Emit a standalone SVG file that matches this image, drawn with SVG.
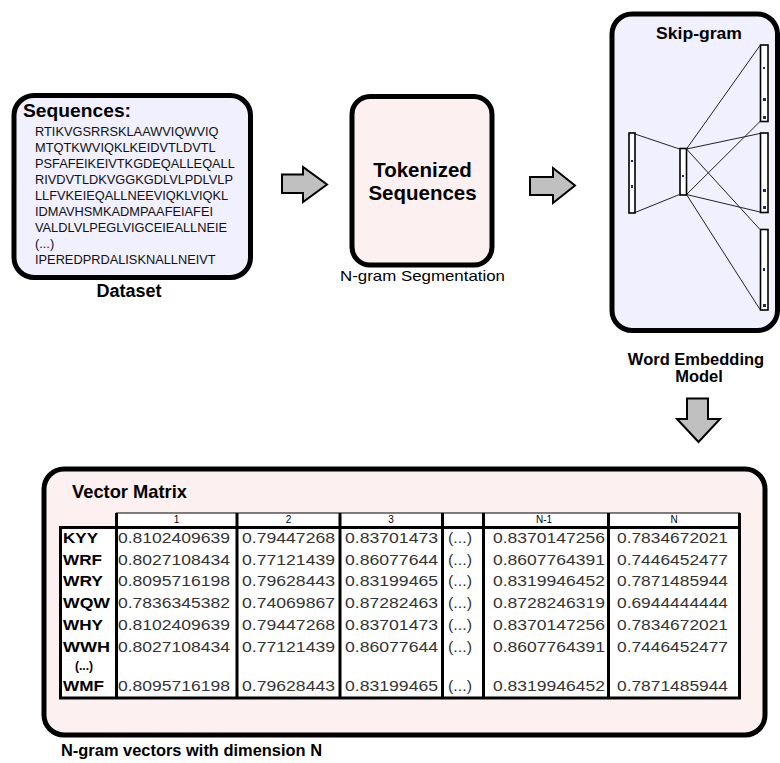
<svg xmlns="http://www.w3.org/2000/svg" width="780" height="763" viewBox="0 0 780 763">
<defs>
<style>
text{font-family:"Liberation Sans",Arial,sans-serif;fill:#000}
.b{font-weight:bold}
.seq{font-size:12.8px;fill:#111}
.box{stroke:#000;stroke-width:5}
.lav{fill:#f0f0fe}
.pink{fill:#fdf0f0}
.arrow{fill:#c0c0c0;stroke:#000;stroke-width:2;stroke-linejoin:miter}
.layer{fill:#fff;stroke:#000;stroke-width:1.6}
.nn{stroke:#222;stroke-width:1;fill:none}
.mk{fill:#1a2a6a}
.num{font-size:14.5px;fill:#333}
.lab{font-size:14.5px;font-weight:bold}
.hd{font-size:10px;text-anchor:middle}
.sep{stroke:#000;stroke-width:3}
</style>
</defs>
<rect width="780" height="763" fill="#fff"/>

<g id="dataset">
<rect class="box lav" x="14" y="95.5" width="236.5" height="182" rx="20"/>
<text class="b" x="23" y="117" font-size="18" textLength="108" lengthAdjust="spacingAndGlyphs">Sequences:</text>
<text class="seq" x="35" y="136">RTIKVGSRRSKLAAWVIQWVIQ</text>
<text class="seq" x="35" y="152">MTQTKWVIQKLKEIDVTLDVTL</text>
<text class="seq" x="35" y="168">PSFAFEIKEIVTKGDEQALLEQALL</text>
<text class="seq" x="35" y="184">RIVDVTLDKVGGKGDLVLPDLVLP</text>
<text class="seq" x="35" y="200">LLFVKEIEQALLNEEVIQKLVIQKL</text>
<text class="seq" x="35" y="216">IDMAVHSMKADMPAAFEIAFEI</text>
<text class="seq" x="35" y="232">VALDLVLPEGLVIGCEIEALLNEIE</text>
<text class="seq" x="35" y="248">(...)</text>
<text class="seq" x="35" y="264">IPEREDPRDALISKNALLNEIVT</text>
<text class="b" x="129" y="297" font-size="18" text-anchor="middle">Dataset</text>
</g>

<g id="tokenized">
<rect class="box pink" x="352" y="96.5" width="140" height="168.5" rx="18" stroke-width="4"/>
<text class="b" x="422.5" y="177" font-size="20.5" text-anchor="middle">Tokenized</text>
<text class="b" x="422.5" y="200" font-size="20.5" text-anchor="middle">Sequences</text>
<text x="422.5" y="281" font-size="15" text-anchor="middle" textLength="165" lengthAdjust="spacingAndGlyphs">N-gram Segmentation</text>
</g>

<g id="skipgram">
<rect class="box lav" x="612" y="14" width="165.5" height="316.5" rx="20"/>
<text class="b" x="699" y="38.5" font-size="16.5" text-anchor="middle" textLength="86" lengthAdjust="spacingAndGlyphs">Skip-gram</text>
<g id="network">
<line class="nn" x1="635" y1="134" x2="679.5" y2="149"/>
<line class="nn" x1="635" y1="212.5" x2="679.5" y2="194.5"/>
<line class="nn" x1="686.5" y1="149" x2="760" y2="45.5"/>
<line class="nn" x1="686.5" y1="194.5" x2="760" y2="121.5"/>
<line class="nn" x1="686.5" y1="149" x2="760" y2="133.5"/>
<line class="nn" x1="686.5" y1="194.5" x2="760" y2="212"/>
<line class="nn" x1="686.5" y1="149" x2="760" y2="229.5"/>
<line class="nn" x1="686.5" y1="194.5" x2="760" y2="309.5"/>
<rect class="layer" x="629" y="133" width="6" height="80"/>
<rect class="layer" x="680" y="148.5" width="6.5" height="46.5"/>
<rect class="layer" x="760.5" y="45" width="7.5" height="76.5"/>
<rect class="layer" x="760.5" y="133" width="7.5" height="79.5"/>
<rect class="layer" x="760.5" y="229.5" width="7.5" height="80.5"/>
<rect class="mk" x="631" y="185" width="2" height="3"/>
<rect class="mk" x="631" y="160" width="2" height="2"/>
<rect class="mk" x="682" y="175" width="2" height="2"/>
<rect class="mk" x="763" y="98" width="3" height="3"/>
<rect class="mk" x="763" y="67" width="2" height="2"/>
<rect class="mk" x="763" y="116" width="3" height="3"/>
<rect class="mk" x="763" y="189" width="3" height="3"/>
<rect class="mk" x="763" y="206" width="3" height="3"/>
<rect class="mk" x="763" y="268" width="2" height="3"/>
<rect class="mk" x="763" y="304" width="3" height="3"/>
</g>
<text class="b" x="696" y="365" font-size="16.5" text-anchor="middle">Word Embedding</text>
<text class="b" x="699" y="382" font-size="16.5" text-anchor="middle">Model</text>
</g>

<g id="connectors">
<polygon class="arrow" points="282,174.5 303,174.5 303,167 327,184.5 303,202 303,193 282,193"/>
<polygon class="arrow" points="530,177 553,177 553,168 575,185.5 553,203 553,195 530,195"/>
<polygon class="arrow" points="687,398.5 708,398.5 708,419 720,419 698.5,442 677,419 687,419"/>
</g>

<g id="vector-matrix">
<rect class="box pink" x="44" y="469" width="721" height="266" rx="20"/>
<text class="b" x="72" y="498" font-size="19" textLength="115" lengthAdjust="spacingAndGlyphs">Vector Matrix</text>
<g id="table">
<rect x="116.5" y="513" width="623" height="14" fill="#fff" stroke="#000" stroke-width="1"/>
<rect x="60.5" y="527.5" width="679" height="170.5" fill="#fff" stroke="#000" stroke-width="3"/>
<line class="sep" x1="116.5" y1="513" x2="116.5" y2="698"/>
<line class="sep" x1="237" y1="513" x2="237" y2="698"/>
<line class="sep" x1="340" y1="513" x2="340" y2="698"/>
<line class="sep" x1="442.5" y1="513" x2="442.5" y2="698"/>
<line class="sep" x1="483.5" y1="513" x2="483.5" y2="698"/>
<line class="sep" x1="608.5" y1="513" x2="608.5" y2="698"/>
<line class="sep" x1="739.5" y1="513" x2="739.5" y2="698"/>
<text class="hd" x="176.5" y="522.5">1</text>
<text class="hd" x="288.5" y="522.5">2</text>
<text class="hd" x="391" y="522.5">3</text>
<text class="hd" x="544" y="522.5">N-1</text>
<text class="hd" x="674" y="522.5">N</text>

<text class="lab" x="63" y="543" textLength="35" lengthAdjust="spacingAndGlyphs">KYY</text>
<text class="num" x="118" y="543" textLength="112" lengthAdjust="spacingAndGlyphs">0.8102409639</text>
<text class="num" x="242" y="543" textLength="93" lengthAdjust="spacingAndGlyphs">0.79447268</text>
<text class="num" x="345" y="543" textLength="93" lengthAdjust="spacingAndGlyphs">0.83701473</text>
<text class="num" x="448" y="543" textLength="24" lengthAdjust="spacingAndGlyphs">(...)</text>
<text class="num" x="493" y="543" textLength="112" lengthAdjust="spacingAndGlyphs">0.8370147256</text>
<text class="num" x="617" y="543" textLength="111" lengthAdjust="spacingAndGlyphs">0.7834672021</text>

<text class="lab" x="63" y="564.5" textLength="39" lengthAdjust="spacingAndGlyphs">WRF</text>
<text class="num" x="118" y="564.5" textLength="112" lengthAdjust="spacingAndGlyphs">0.8027108434</text>
<text class="num" x="242" y="564.5" textLength="93" lengthAdjust="spacingAndGlyphs">0.77121439</text>
<text class="num" x="345" y="564.5" textLength="93" lengthAdjust="spacingAndGlyphs">0.86077644</text>
<text class="num" x="448" y="564.5" textLength="24" lengthAdjust="spacingAndGlyphs">(...)</text>
<text class="num" x="493" y="564.5" textLength="112" lengthAdjust="spacingAndGlyphs">0.8607764391</text>
<text class="num" x="617" y="564.5" textLength="111" lengthAdjust="spacingAndGlyphs">0.7446452477</text>

<text class="lab" x="63" y="586" textLength="40" lengthAdjust="spacingAndGlyphs">WRY</text>
<text class="num" x="118" y="586" textLength="112" lengthAdjust="spacingAndGlyphs">0.8095716198</text>
<text class="num" x="242" y="586" textLength="93" lengthAdjust="spacingAndGlyphs">0.79628443</text>
<text class="num" x="345" y="586" textLength="93" lengthAdjust="spacingAndGlyphs">0.83199465</text>
<text class="num" x="448" y="586" textLength="24" lengthAdjust="spacingAndGlyphs">(...)</text>
<text class="num" x="493" y="586" textLength="112" lengthAdjust="spacingAndGlyphs">0.8319946452</text>
<text class="num" x="617" y="586" textLength="111" lengthAdjust="spacingAndGlyphs">0.7871485944</text>

<text class="lab" x="63" y="607.5" textLength="47" lengthAdjust="spacingAndGlyphs">WQW</text>
<text class="num" x="118" y="607.5" textLength="112" lengthAdjust="spacingAndGlyphs">0.7836345382</text>
<text class="num" x="242" y="607.5" textLength="93" lengthAdjust="spacingAndGlyphs">0.74069867</text>
<text class="num" x="345" y="607.5" textLength="93" lengthAdjust="spacingAndGlyphs">0.87282463</text>
<text class="num" x="448" y="607.5" textLength="24" lengthAdjust="spacingAndGlyphs">(...)</text>
<text class="num" x="493" y="607.5" textLength="112" lengthAdjust="spacingAndGlyphs">0.8728246319</text>
<text class="num" x="617" y="607.5" textLength="111" lengthAdjust="spacingAndGlyphs">0.6944444444</text>

<text class="lab" x="63" y="630" textLength="40" lengthAdjust="spacingAndGlyphs">WHY</text>
<text class="num" x="118" y="630" textLength="112" lengthAdjust="spacingAndGlyphs">0.8102409639</text>
<text class="num" x="242" y="630" textLength="93" lengthAdjust="spacingAndGlyphs">0.79447268</text>
<text class="num" x="345" y="630" textLength="93" lengthAdjust="spacingAndGlyphs">0.83701473</text>
<text class="num" x="448" y="630" textLength="24" lengthAdjust="spacingAndGlyphs">(...)</text>
<text class="num" x="493" y="630" textLength="112" lengthAdjust="spacingAndGlyphs">0.8370147256</text>
<text class="num" x="617" y="630" textLength="111" lengthAdjust="spacingAndGlyphs">0.7834672021</text>

<text class="lab" x="63" y="652" textLength="47" lengthAdjust="spacingAndGlyphs">WWH</text>
<text class="num" x="118" y="652" textLength="112" lengthAdjust="spacingAndGlyphs">0.8027108434</text>
<text class="num" x="242" y="652" textLength="93" lengthAdjust="spacingAndGlyphs">0.77121439</text>
<text class="num" x="345" y="652" textLength="93" lengthAdjust="spacingAndGlyphs">0.86077644</text>
<text class="num" x="448" y="652" textLength="24" lengthAdjust="spacingAndGlyphs">(...)</text>
<text class="num" x="493" y="652" textLength="112" lengthAdjust="spacingAndGlyphs">0.8607764391</text>
<text class="num" x="617" y="652" textLength="111" lengthAdjust="spacingAndGlyphs">0.7446452477</text>

<text class="b" x="84" y="670" font-size="12" text-anchor="middle">(...)</text>

<text class="lab" x="63" y="691" textLength="41" lengthAdjust="spacingAndGlyphs">WMF</text>
<text class="num" x="118" y="691" textLength="112" lengthAdjust="spacingAndGlyphs">0.8095716198</text>
<text class="num" x="242" y="691" textLength="93" lengthAdjust="spacingAndGlyphs">0.79628443</text>
<text class="num" x="345" y="691" textLength="93" lengthAdjust="spacingAndGlyphs">0.83199465</text>
<text class="num" x="448" y="691" textLength="24" lengthAdjust="spacingAndGlyphs">(...)</text>
<text class="num" x="493" y="691" textLength="112" lengthAdjust="spacingAndGlyphs">0.8319946452</text>
<text class="num" x="617" y="691" textLength="111" lengthAdjust="spacingAndGlyphs">0.7871485944</text>
</g>
<text class="b" x="61" y="756" font-size="17" textLength="261" lengthAdjust="spacingAndGlyphs">N-gram vectors with dimension N</text>
</g>
</svg>
